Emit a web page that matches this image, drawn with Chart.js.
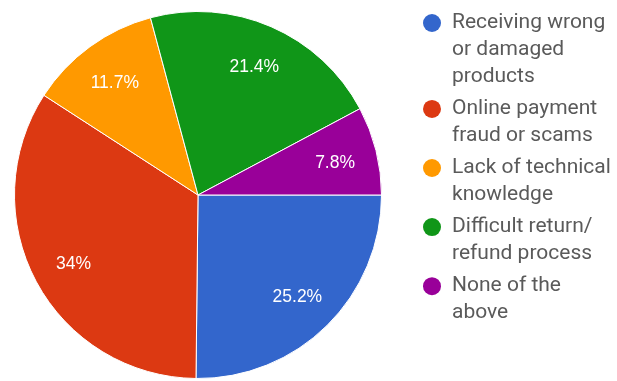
<!DOCTYPE html>
<html>
<head>
<meta charset="utf-8">
<script src="https://cdn.jsdelivr.net/npm/chart.js@4.4.1/dist/chart.umd.min.js"></script>
<style>
  html, body { margin: 0; padding: 0; background: #fff; }
  #wrap { width: 617px; height: 381px; }
</style>
</head>
<body>
<div id="wrap"><canvas id="myChart" width="617" height="381"></canvas></div>
<script>
// each label is split into the lines shown in the legend
var issues = [
    ['Receiving wrong', 'or damaged', 'products'],
    ['Online payment', 'fraud or scams'],
    ['Lack of technical', 'knowledge'],
    ['Difficult return/', 'refund process'],
    ['None of the', 'above']
];
var shares = [25.2, 34, 11.7, 21.4, 7.8];
var sliceColors = ['#3366cc', '#dc3912', '#ff9900', '#109618', '#990099'];

// percentage text inside each slice
var sliceLabels = {
    id: 'sliceLabels',
    afterDatasetsDraw: function(chart) {
        var ctx = chart.ctx;
        var meta = chart.getDatasetMeta(0);
        ctx.save();
        ctx.font = '17.5px "Liberation Sans", Arial, sans-serif';
        ctx.fillStyle = '#ffffff';
        ctx.textAlign = 'center';
        ctx.textBaseline = 'middle';
        meta.data.forEach(function(arc, i) {
            var p = arc.getProps(['x', 'y', 'startAngle', 'endAngle', 'outerRadius'], true);
            var mid = (p.startAngle + p.endAngle) / 2;
            var r = p.outerRadius * 0.77;
            ctx.fillText(shares[i] + '%', p.x + Math.cos(mid) * r, p.y + Math.sin(mid) * r + 2);
        });
        ctx.restore();
    }
};

// legend on the right with wrapped labels
var sideLegend = {
    id: 'sideLegend',
    afterDraw: function(chart) {
        var ctx = chart.ctx;
        var x = 452, y = 23;
        var lineH = 26.8, gap = 5.5;
        ctx.save();
        ctx.font = '21px Roboto, sans-serif';
        ctx.textBaseline = 'middle';
        ctx.textAlign = 'left';
        issues.forEach(function(lines, i) {
            ctx.fillStyle = sliceColors[i];
            ctx.beginPath();
            ctx.arc(432, y, 9, 0, Math.PI * 2);
            ctx.fill();
            ctx.fillStyle = '#5a5a5a';
            lines.forEach(function(line, j) {
                ctx.fillText(line, x, y + j * lineH);
            });
            y += lines.length * lineH + gap;
        });
        ctx.restore();
    }
};

var ctx = document.getElementById('myChart').getContext('2d');
var myChart = new Chart(ctx, {
    type: 'pie',
    data: {
        labels: issues,
        datasets: [{
            data: shares,
            backgroundColor: sliceColors,
            borderColor: '#ffffff',
            borderWidth: 1
        }]
    },
    options: {
        responsive: false,
        animation: false,
        rotation: 90,
        layout: {
            padding: { left: 14, right: 235, top: 11, bottom: 2 }
        },
        plugins: {
            legend: { display: false },
            tooltip: { enabled: false }
        }
    },
    plugins: [sliceLabels, sideLegend]
});
</script>
</body>
</html>
